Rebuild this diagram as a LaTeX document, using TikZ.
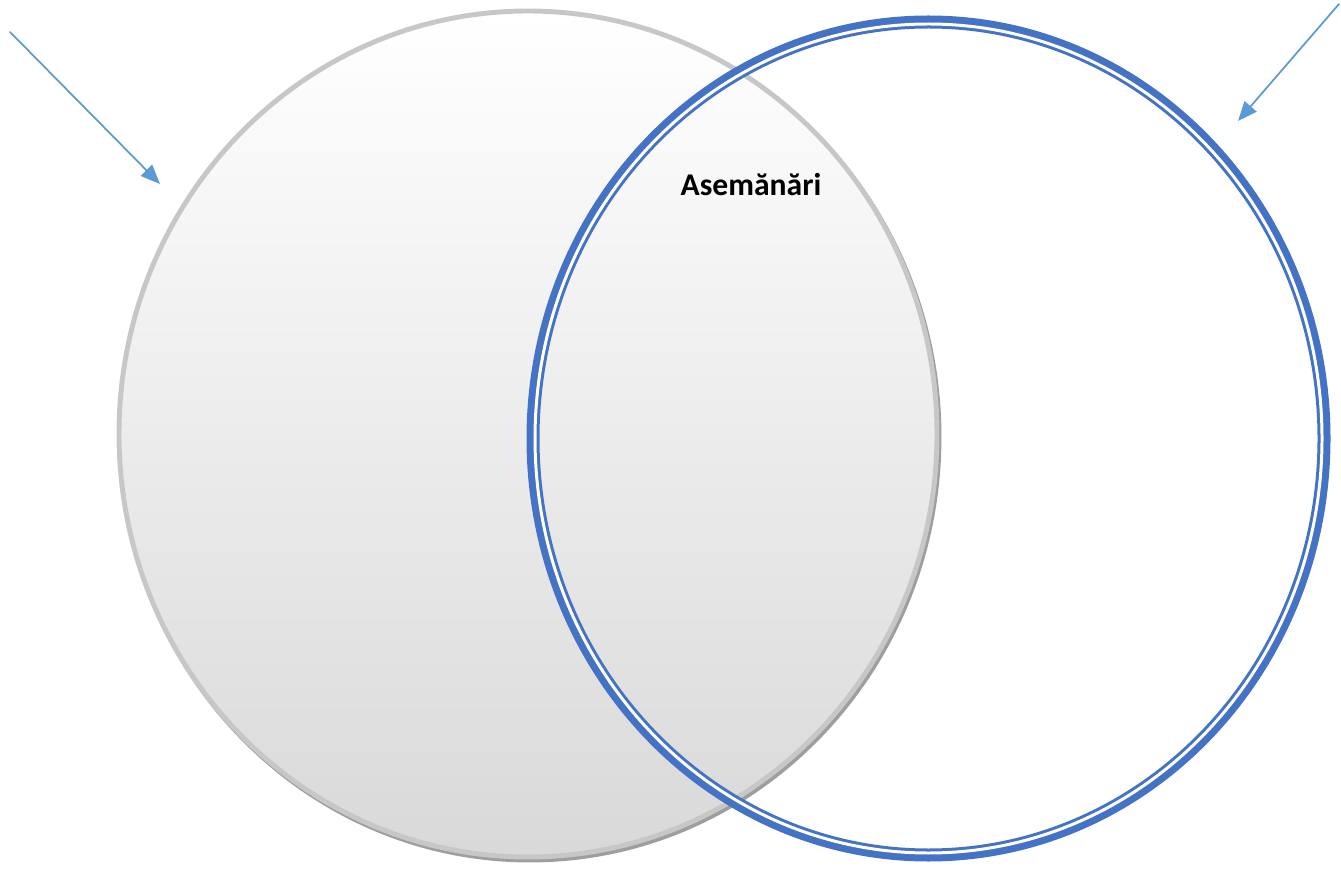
\documentclass[tikz,border=0pt]{standalone}
\usepackage{fontspec}
\setmainfont{Carlito}
\usepackage{tikz}
\usetikzlibrary{arrows.meta}
\definecolor{ringblue}{RGB}{68,114,196}
\definecolor{arrowblue}{RGB}{91,155,213}
\tikzset{>={Triangle[length=11pt,width=9pt]},
  pointer/.style={->,arrowblue,line width=1pt},
  ringline/.style={ringblue,line width=7.4pt},
  ringgap/.style={white,line width=1.7pt}}

\begin{document}
\begin{tikzpicture}[x=0.02cm,y=-0.02cm,line cap=round]
    \useasboundingbox (0,0) rectangle (1341,874);

    % left set
    \draw [black!38, line width=2.8pt] (530,437) ellipse [x radius=409, y radius=423];
    \shade [top color=white, bottom color=black!15] (528,434) ellipse [x radius=409, y radius=423];
    \draw [black!22, line width=2.8pt] (528,434) ellipse [x radius=409, y radius=423];

    % right set
    \draw [ringline] (928.5,438.5) ellipse [x radius=395.5, y radius=416.5];
    \draw [ringgap] (928.5,438.5) ellipse [x radius=393.5, y radius=414.5];

    \node (common) at (751,185) {\fontsize{18}{20}\selectfont\bfseries Asemănări};

    \coordinate (lstart) at (10,32);
    \coordinate (lend) at (160,184);
    \coordinate (rstart) at (1339,4);
    \coordinate (rend) at (1238,121);
    \draw [pointer] (lstart) -- (lend);
    \draw [pointer] (rstart) -- (rend);

\end{tikzpicture}
\end{document}
